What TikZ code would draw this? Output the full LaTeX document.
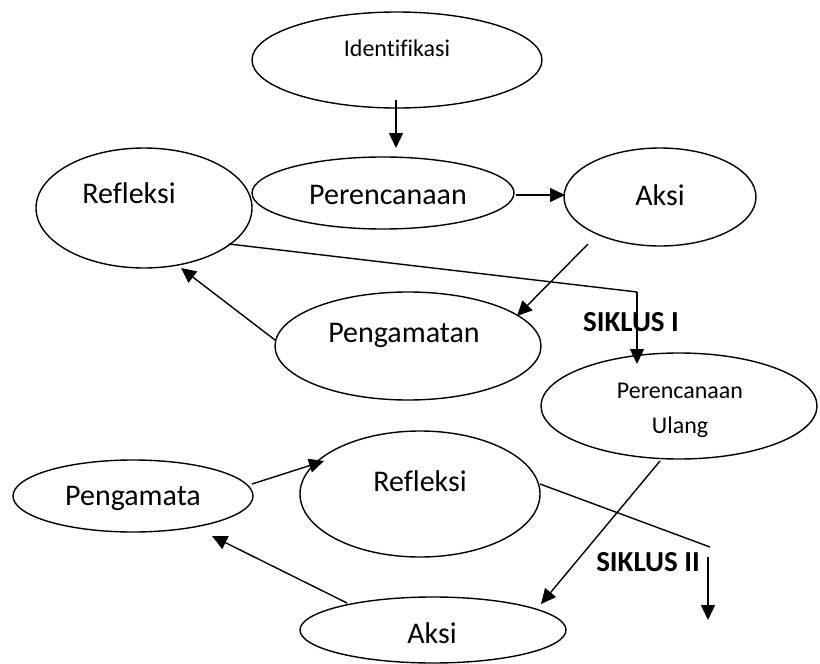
\documentclass[tikz,border=0pt]{standalone}
\usepackage{fontspec}
\setmainfont{Carlito}[Ligatures={NoCommon}]
\usetikzlibrary{shapes.geometric,arrows.meta}
\begin{document}
\begin{tikzpicture}[x=1pt,y=-1pt,
  ell/.style={draw,ellipse,line width=1.4pt,inner sep=0pt},
  lbl/.style={font=\fontsize{30}{34}\selectfont,inner sep=0pt},
  slbl/.style={font=\fontsize{24}{35}\selectfont,inner sep=0pt,align=center},
  blbl/.style={font=\fontsize{29}{34}\selectfont\bfseries,inner sep=0pt},
  con/.style={line width=1.4pt},
  arr/.style={line width=1.4pt,-{Triangle[length=15pt,width=14pt]}}]
\useasboundingbox (0,0) rectangle (820,664);
% ellipses
\node[ell,minimum width=290pt,minimum height=96pt] (ident) at (397,60) {};
\node[ell,minimum width=262pt,minimum height=72pt] (per) at (383,193) {};
\node[ell,minimum width=216pt,minimum height=120pt] (ref1) at (144,208) {};
\node[ell,minimum width=192pt,minimum height=98pt] (aksi1) at (660,197) {};
\node[ell,minimum width=266pt,minimum height=108pt] (peng1) at (408,346) {};
\node[ell,minimum width=276pt,minimum height=106pt] (pu) at (679,406) {};
\node[ell,minimum width=240pt,minimum height=72pt] (peng2) at (133,496) {};
\node[ell,minimum width=240pt,minimum height=126pt] (ref2) at (420,494) {};
\node[ell,minimum width=266pt,minimum height=66pt] (aksi2) at (433,630) {};
% texts
\node[slbl] (tident) at (397,48) {Identifikasi};
\node[lbl] (tper) at (388,195) {Perencanaan};
\node[lbl] (tref1) at (129,193) {Refleksi};
\node[lbl] (taksi1) at (660,195) {Aksi};
\node[lbl] (tpeng1) at (404,335) {Pengamatan};
\node[slbl] (tpu) at (680,410) {Perencanaan\\Ulang};
\node[lbl] (tpeng2) at (133,498) {Pengamata};
\node[lbl] (tref2) at (420,481) {Refleksi};
\node[lbl] (taksi2) at (432,633) {Aksi};
\node[blbl] (s1) at (631,322) {SIKLUS I};
\node[blbl] (s2) at (648,562) {SIKLUS II};
% connector points
\coordinate (c1) at (637,292);
\coordinate (c2) at (710,547);
\coordinate (c3a) at (708,557);
\coordinate (c3b) at (708,620);
% connectors
\draw[arr] (396,100) -- (396,148);
\draw[arr] (per.east) ++(1,2) -- (565,195);
\draw[arr] (588,244) -- (517,316);
\draw[arr] (275,340) -- (181,268);
\draw[con] (229,244) -- (c1);
\draw[arr] (c1) -- (637,364);
\draw[arr] (252,484) -- (324,461);
\draw[arr] (347,603) -- (212,536);
\draw[arr] (660,461) -- (541,604);
\draw[con] (540,484) -- (c2);
\draw[arr] (c3a) -- (c3b);
\end{tikzpicture}
\end{document}
